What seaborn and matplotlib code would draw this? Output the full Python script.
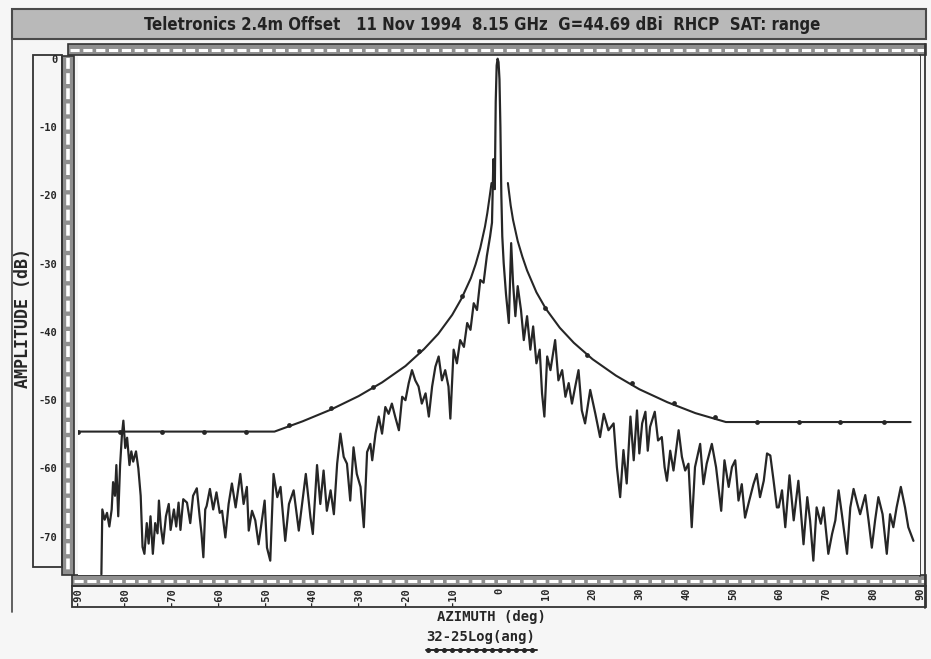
import matplotlib
matplotlib.use("Agg")
import matplotlib.pyplot as plt
import seaborn as sns
import pandas as pd
from matplotlib.patches import Rectangle

# ---------------- texts ----------------
title_text = "Teletronics 2.4m Offset   11 Nov 1994  8.15 GHz  G=44.69 dBi  RHCP  SAT: range"
x_label = "AZIMUTH (deg)"
y_label = "AMPLITUDE (dB)"
mask_label = "32-25Log(ang)"
x_ticks = [-90, -80, -70, -60, -50, -40, -30, -20, -10, 0, 10, 20, 30, 40, 50, 60, 70, 80, 90]
y_ticks = [0, -10, -20, -30, -40, -50, -60, -70]

trace_angle = [
    -85.0, -84.8, -84.3, -83.8, -83.3, -82.8, -82.5, -82.1, -81.8, -81.4, -81.0, -80.6, -80.3, -79.9,
    -79.5, -79.0, -78.6, -78.2, -77.6, -77.1, -76.6, -76.2, -75.8, -75.3, -74.9, -74.5, -74.0, -73.5,
    -73.0, -72.7, -72.3, -71.8, -71.2, -70.6, -70.2, -69.5, -69.0, -68.5, -68.1, -67.5, -66.7, -66.0,
    -65.4, -64.6, -64.0, -63.6, -63.2, -62.8, -62.5, -61.8, -61.1, -60.4, -59.7, -59.2, -58.5, -57.8,
    -57.1, -56.3, -55.3, -54.6, -53.9, -53.5, -52.8, -52.1, -51.4, -50.6, -50.1, -49.6, -48.9, -48.2,
    -47.4, -46.7, -45.7, -44.9, -43.9, -42.8, -42.1, -41.3, -40.3, -39.8, -38.9, -38.2, -37.5, -36.8,
    -36.0, -35.3, -34.6, -33.9, -33.2, -32.5, -31.8, -31.1, -30.4, -29.6, -28.9, -28.2, -27.5, -27.1,
    -26.4, -25.7, -25.0, -24.3, -23.6, -22.9, -22.2, -21.4, -20.7, -20.0, -19.3, -18.6, -17.9, -17.2,
    -16.5, -15.7, -15.0, -14.3, -13.6, -12.9, -12.2, -11.5, -10.8, -10.4, -9.7, -9.0, -8.3, -7.5,
    -6.8, -6.1, -5.4, -4.7, -4.0, -3.3, -2.6, -1.9, -1.5, -1.2, -0.9, -0.7, -0.5, -0.3, -0.1,
    0.1, 0.3, 0.5, 0.7, 1.0, 1.5, 2.1, 2.6, 3.0, 3.5, 4.0, 4.7, 5.3, 6.0, 6.7, 7.3, 8.0, 8.7,
    9.2, 9.7, 10.3, 11.0, 12.0, 12.7, 13.5, 14.2, 14.9, 15.6, 16.3, 17.0, 17.7, 18.4, 19.5, 20.6,
    21.6, 22.4, 23.4, 24.5, 25.2, 25.9, 26.6, 27.3, 28.1, 28.8, 29.5, 30.0, 30.6, 31.3, 31.8, 32.3,
    33.3, 34.0, 34.8, 35.4, 35.9, 36.6, 37.3, 38.4, 39.1, 39.8, 40.5, 41.2, 41.9, 43.0, 43.7, 44.4,
    45.5, 46.4, 47.5, 48.2, 49.1, 49.8, 50.5, 51.2, 51.9, 52.6, 53.5, 54.4, 55.1, 55.8, 56.6, 57.3,
    58.0, 58.7, 59.4, 59.8, 60.5, 61.2, 62.1, 63.0, 64.0, 65.1, 65.9, 66.5, 67.2, 67.9, 68.8, 69.4,
    70.4, 71.2, 71.9, 72.6, 73.3, 74.4, 75.1, 75.8, 76.6, 77.2, 78.3, 79.0, 79.7, 80.4, 81.1, 82.0,
    82.9, 83.6, 84.3, 85.0, 85.9, 86.8, 87.5, 88.6,
]
trace_db = [
    -75.5, -66.0, -67.5, -66.5, -68.5, -66.0, -62.0, -64.0, -59.5, -67.0, -59.5, -55.0, -53.0, -57.0,
    -55.5, -59.5, -57.5, -59.0, -57.5, -60.0, -64.0, -71.5, -72.5, -68.0, -71.0, -67.0, -72.5, -68.0,
    -69.5, -64.7, -68.5, -71.0, -67.0, -65.2, -69.0, -66.0, -68.5, -65.0, -69.0, -64.5, -65.0, -68.0,
    -64.0, -62.9, -67.0, -69.5, -73.0, -66.0, -65.5, -63.0, -66.0, -63.5, -66.5, -66.2, -70.1, -65.2,
    -62.2, -65.7, -60.8, -65.2, -62.7, -69.1, -66.2, -67.6, -71.1, -67.2, -64.7, -71.6, -73.5, -60.8,
    -64.2, -62.7, -70.6, -65.2, -63.2, -69.1, -65.2, -60.8, -67.2, -69.6, -59.5, -65.2, -60.3, -66.2,
    -63.2, -66.7, -59.3, -54.9, -58.3, -59.3, -64.7, -56.9, -60.8, -62.7, -68.6, -57.6, -56.4, -58.8,
    -54.9, -52.4, -54.9, -51.0, -52.0, -50.5, -52.4, -54.4, -49.5, -50.0, -47.5, -45.6, -47.1, -48.0,
    -50.5, -49.0, -52.4, -48.0, -45.1, -43.6, -47.1, -45.6, -48.0, -52.7, -42.6, -44.6, -41.2, -42.2,
    -38.7, -39.7, -35.8, -36.8, -32.4, -32.8, -28.9, -26.0, -24.0, -14.7, -19.1, -6.3, -1.0, 0.0, -0.5,
    -3.0, -10.0, -20.0, -26.0, -29.9, -34.5, -38.7, -27.0, -32.8, -37.7, -33.3, -36.8, -41.2, -37.7,
    -42.6, -39.2, -44.6, -42.6, -49.0, -52.4, -43.6, -45.6, -41.2, -47.1, -45.6, -49.5, -47.5, -50.5,
    -48.0, -45.6, -51.5, -53.4, -48.5, -52.0, -55.4, -52.0, -54.4, -53.4, -59.8, -64.2, -57.3, -62.2,
    -52.4, -58.8, -51.5, -57.8, -53.4, -51.7, -57.4, -53.9, -51.7, -55.9, -55.4, -59.8, -61.8, -57.4,
    -60.3, -54.4, -58.3, -60.3, -59.3, -68.6, -59.8, -56.4, -62.3, -59.3, -56.4, -59.8, -66.2, -58.8,
    -62.7, -59.8, -58.8, -64.7, -62.3, -67.2, -64.7, -62.3, -60.8, -64.2, -61.8, -57.8, -58.1, -61.8,
    -65.7, -65.7, -63.2, -68.6, -61.0, -67.6, -61.8, -71.1, -64.2, -67.6, -73.5, -65.7, -68.1, -65.7,
    -72.5, -69.6, -67.6, -63.2, -66.7, -72.5, -65.7, -63.0, -65.2, -66.7, -63.9, -67.6, -71.6, -67.6,
    -64.2, -66.7, -72.5, -66.7, -68.6, -65.7, -62.7, -65.7, -68.6, -70.6,
]

# ---------------- 32-25log(ang) envelope ----------------
mask_left_angle = [-90, -48, -42, -36, -30, -25, -20, -16, -13, -10, -8, -6, -5, -4, -3, -2.5, -2, -1.6]
mask_left_db = [-54.6, -54.6, -53.1, -51.4, -49.4, -47.4, -45.0, -42.5, -40.3, -37.5, -35.1, -32.1,
                -30.1, -27.7, -24.6, -22.6, -20.2, -18.2]
mask_right_angle = [1.9, 2.5, 3, 4, 5, 6, 8, 10, 13, 16, 20, 25, 30, 36, 42, 48.5, 88]
mask_right_db = [-18.2, -21.5, -23.6, -26.7, -29.0, -31.0, -34.2, -36.6, -39.4, -41.6, -44.0, -46.4,
                 -48.4, -50.3, -51.9, -53.2, -53.2]
marker_angle = [-90, -81, -72, -63, -54, -45, -36, -27, -17.2, -7.9,
                9.8, 18.8, 28.4, 37.4, 46.2, 55.1, 64.1, 72.9, 82.3]
marker_db = [-54.6, -54.6, -54.6, -54.6, -54.6, -53.6, -51.2, -48.0, -42.8, -34.8,
             -36.5, -43.4, -47.5, -50.4, -52.5, -53.2, -53.2, -53.2, -53.2]

trace = pd.DataFrame({"angle": trace_angle, "db": trace_db})
mask = pd.DataFrame({
    "angle": mask_left_angle + mask_right_angle,
    "db": mask_left_db + mask_right_db,
    "side": ["left"] * len(mask_left_angle) + ["right"] * len(mask_right_angle),
})
marks = pd.DataFrame({"angle": marker_angle, "db": marker_db})

sns.set_theme(style="white")
W, H = 931, 659
fig = plt.figure(figsize=(W / 100, H / 100), dpi=100, facecolor="#f6f6f6")

mono = "DejaVu Sans Mono"
ink = "#262626"

# --- decoration layer in pixel coordinates ---
deco = fig.add_axes([0, 0, 1, 1], zorder=0)
deco.set_xlim(0, W)
deco.set_ylim(H, 0)
deco.axis("off")

# title bar
deco.add_patch(Rectangle((12, 9), 914, 30, fc="#b9b9b9", ec="#4a4a4a", lw=1.5))
deco.text(482, 25, title_text, ha="center", va="center", fontsize=12, fontweight="bold",
          color="#222222", fontstretch="condensed")

def ruler_h(x0, x1, y0, h):
    deco.add_patch(Rectangle((x0, y0), x1 - x0, h, fc="#8f8f8f", ec="#333333", lw=1.2))
    deco.plot([x0 + 2, x1 - 2], [y0 + h / 2, y0 + h / 2], color="white", lw=2.2,
              linestyle=(0, (3.0, 1.2)), solid_capstyle="butt")

def ruler_v(x0, w, y0, y1):
    deco.add_patch(Rectangle((x0, y0), w, y1 - y0, fc="#8f8f8f", ec="#333333", lw=1.2))
    deco.plot([x0 + w / 2, x0 + w / 2], [y0 + 2, y1 - 2], color="white", lw=2.6,
              linestyle=(0, (3.0, 1.2)), solid_capstyle="butt")

ruler_h(68, 926, 44, 11)      # top ruler
ruler_h(72, 926, 575, 11)     # bottom ruler
ruler_v(62, 12, 56, 575)      # left ruler

# right double border
deco.plot([920, 920], [55, 576], color="#333333", lw=1.3)
deco.plot([925, 925], [44, 608], color="#333333", lw=1.3)

# x tick label box
deco.add_patch(Rectangle((72, 586), 854, 21, fc="none", ec="#333333", lw=1.3))
# y tick label box
deco.add_patch(Rectangle((33, 55), 29, 512, fc="none", ec="#333333", lw=1.3))
# outer frame line on the left
deco.plot([12, 12], [39, 612], color="#555555", lw=1.3)

deco.text(23, 318, y_label, rotation=90, ha="center", va="center", fontsize=12,
          fontweight="bold", family=mono, color=ink)
deco.text(491, 617, x_label, ha="center", va="center", fontsize=10, fontweight="bold",
          family=mono, color=ink)
deco.text(481, 637, mask_label, ha="center", va="center", fontsize=10, fontweight="bold",
          family=mono, color=ink)
# legend sample for the envelope
deco.plot([426, 537], [650, 650], color=ink, lw=1.4)
deco.plot(list(range(428, 537, 8)), [650] * len(range(428, 537, 8)), ls="none",
          marker="o", ms=2.6, color=ink)

# --- plot area ---
left, right = 78 / W, 920 / W
top, bottom = 1 - 56 / H, 1 - 575 / H
ax = fig.add_axes([left, bottom, right - left, top - bottom], zorder=2)
ax.set_facecolor("white")

sns.lineplot(data=trace, x="angle", y="db", sort=False, estimator=None, color=ink,
             lw=1.6, ax=ax)
sns.lineplot(data=mask, x="angle", y="db", units="side", sort=False, estimator=None,
             color=ink, lw=1.5, ax=ax)
sns.scatterplot(data=marks, x="angle", y="db", color=ink, s=12, linewidth=0, ax=ax, zorder=3)

ax.set_xlim(-90, 90)
ax.set_ylim(-75.6, 0.4)
ax.set_xticks(x_ticks)
ax.set_xticklabels([str(t) for t in x_ticks], rotation=90, family=mono, fontweight="bold",
                   fontsize=7.5, color=ink)
ax.set_yticks(y_ticks)
ax.set_yticklabels([str(t) for t in y_ticks], family=mono, fontweight="bold",
                   fontsize=7.5, color=ink)
ax.tick_params(axis="x", length=0, pad=9)
ax.tick_params(axis="y", length=0, pad=15)
ax.set_xlabel("")
ax.set_ylabel("")
for s in ["top", "bottom", "left", "right"]:
    ax.spines[s].set_visible(False)

fig.savefig("out.png", dpi=100, facecolor=fig.get_facecolor())
